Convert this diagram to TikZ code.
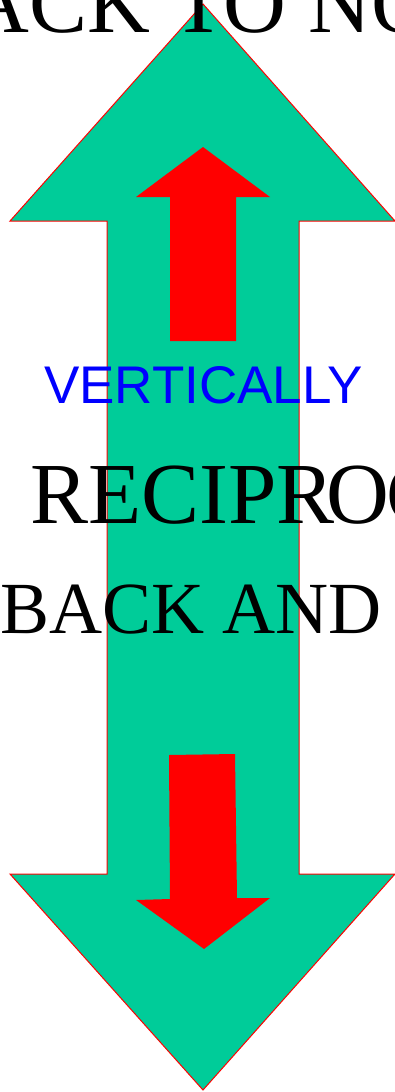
\documentclass[tikz,border=0pt]{standalone}
\usepackage{fontspec}
\setmainfont{Liberation Serif}
\newfontfamily\arialfont{Liberation Sans}
\definecolor{arrowgreen}{RGB}{0,204,153}
\tikzset{
  bigarrow/.style={fill=arrowgreen, draw=red, line width=1pt, line join=miter},
  smallarrow/.style={fill=red, draw=none},
  label/.style={inner sep=0pt, outer sep=0pt, anchor=base west},
}
\begin{document}
\begin{tikzpicture}[x=1pt,y=-1pt]
\useasboundingbox (0,0) rectangle (395,1092);
\begin{scope}
\clip (0,0) rectangle (395,1092);
% big double arrow
\draw[bigarrow] (203,4) -- (395,221) -- (299,221) -- (299,874) -- (395,874)
  -- (203,1090) -- (10,874) -- (107,874) -- (107,221) -- (10,221) -- cycle;
% red up arrow
\fill[smallarrow] (203,147) -- (270,197) -- (236,197) -- (236,341) -- (170,341)
  -- (170,197) -- (136,197) -- cycle;
% red down arrow
\fill[smallarrow] (169,755) -- (235,754) -- (237,898) -- (270,898) -- (204,949)
  -- (136,900) -- (170,899) -- cycle;
% texts
\node[label] (top) at (-33,32) {\fontsize{87}{87}\selectfont ACK TO NO};
\node[label, text=blue] (vert) at (44,403) {\arialfont\fontsize{53}{53}\selectfont VERTICALLY};
\node[label] (recip) at (30,523) {\fontsize{87}{87}\selectfont RECIPR\kern-8pt O\kern-3pt C};
\node[label] (back) at (0,633) {\fontsize{73.5}{73.5}\selectfont BACK AND};
\end{scope}
\end{tikzpicture}
\end{document}
